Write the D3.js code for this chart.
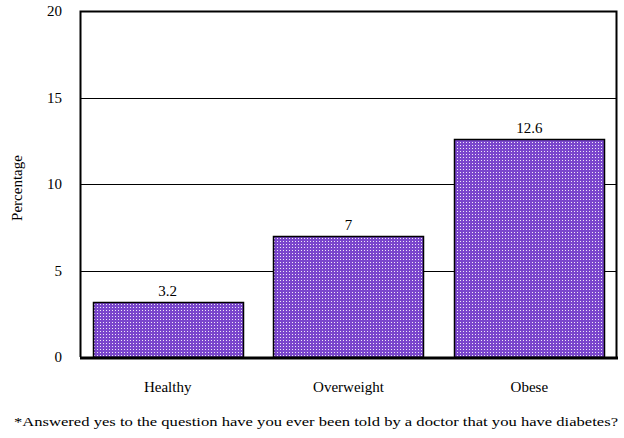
<!DOCTYPE html>
<html>
<head>
<meta charset="utf-8">
<script src="https://cdn.jsdelivr.net/npm/d3@7"></script>
<style>
  body { margin: 0; background: #fff; }
  text { font-family: "Liberation Serif", "DejaVu Serif", serif; fill: #000; }
</style>
</head>
<body>
<svg id="chart" width="624" height="438"></svg>
<script>
var categories = ['Healthy', 'Overweight', 'Obese']
var values = [3.2, 7, 12.6]
var valueLabels = ['3.2', '7', '12.6']
var yTicks = [0, 5, 10, 15, 20]
var footnote = '*Answered yes to the question have you ever been told by a doctor that you have diabetes?'

var svg = d3.select('#chart')

// dotted purple fill like the original
var defs = svg.append('defs')
var pat = defs.append('pattern').attr('id', 'dots')
  .attr('width', 3).attr('height', 3).attr('patternUnits', 'userSpaceOnUse')
pat.append('rect').attr('width', 3).attr('height', 3).attr('fill', '#7a46cc')
pat.append('rect').attr('x', 1).attr('y', 1).attr('width', 1).attr('height', 1).attr('fill', '#eee8f8')

var pLeft = 80, pRight = 617, pTop = 11, pBottom = 357

var x = d3.scaleBand().domain(categories).range([pLeft, pRight]).paddingInner(0.17).paddingOuter(0.07)
var y = d3.scaleLinear().domain([0, 20]).range([pBottom, pTop])

// gridlines
svg.append('g').selectAll('line').data(yTicks.slice(1, -1)).join('line')
  .attr('x1', pLeft).attr('x2', pRight)
  .attr('y1', d => Math.round(y(d)) + 0.5).attr('y2', d => Math.round(y(d)) + 0.5)
  .attr('stroke', '#000').attr('stroke-width', 1.2)

// frame
svg.append('path')
  .attr('d', 'M' + (pLeft + 0.5) + ',' + pBottom + 'V' + (pTop + 0.5) + 'H' + (pRight - 0.5) + 'V' + pBottom)
  .attr('fill', 'none').attr('stroke', '#000').attr('stroke-width', 2)

// bars
svg.append('g').selectAll('rect').data(values).join('rect')
  .attr('x', (d, i) => Math.round(x(categories[i])) + 0.5)
  .attr('y', d => Math.round(y(d)) + 0.5)
  .attr('width', Math.round(x.bandwidth()))
  .attr('height', d => pBottom - Math.round(y(d)))
  .attr('fill', 'url(#dots)')
  .attr('stroke', '#000').attr('stroke-width', 1.5)

// baseline
svg.append('line').attr('x1', pLeft).attr('x2', pRight + 1)
  .attr('y1', pBottom + 1).attr('y2', pBottom + 1)
  .attr('stroke', '#000').attr('stroke-width', 3)

// y axis labels
var yAxis = d3.axisLeft(y).tickValues(yTicks).tickSize(0).tickPadding(0)
var ga = svg.append('g').attr('transform', 'translate(62,0)').call(yAxis)
ga.select('.domain').remove()
ga.selectAll('text').attr('font-size', 15).attr('fill', '#000')

// category labels
var xAxis = d3.axisBottom(x).tickSize(0).tickPadding(0)
var gx = svg.append('g').attr('transform', 'translate(0,381)').call(xAxis)
gx.select('.domain').remove()
gx.selectAll('text').attr('font-size', 15).attr('fill', '#000')

// value labels
svg.append('g').selectAll('text').data(values).join('text')
  .attr('x', (d, i) => x(categories[i]) + x.bandwidth() / 2)
  .attr('y', d => y(d) - 6)
  .attr('text-anchor', 'middle')
  .attr('font-size', 15)
  .text((d, i) => valueLabels[i])

svg.append('text')
  .attr('transform', 'translate(22,188) rotate(-90)')
  .attr('text-anchor', 'middle')
  .attr('font-size', 15)
  .text('Percentage')

svg.append('text')
  .attr('x', 14).attr('y', 426)
  .attr('font-size', 12)
  .attr('textLength', 604).attr('lengthAdjust', 'spacingAndGlyphs')
  .text(footnote)
</script>
</body>
</html>
